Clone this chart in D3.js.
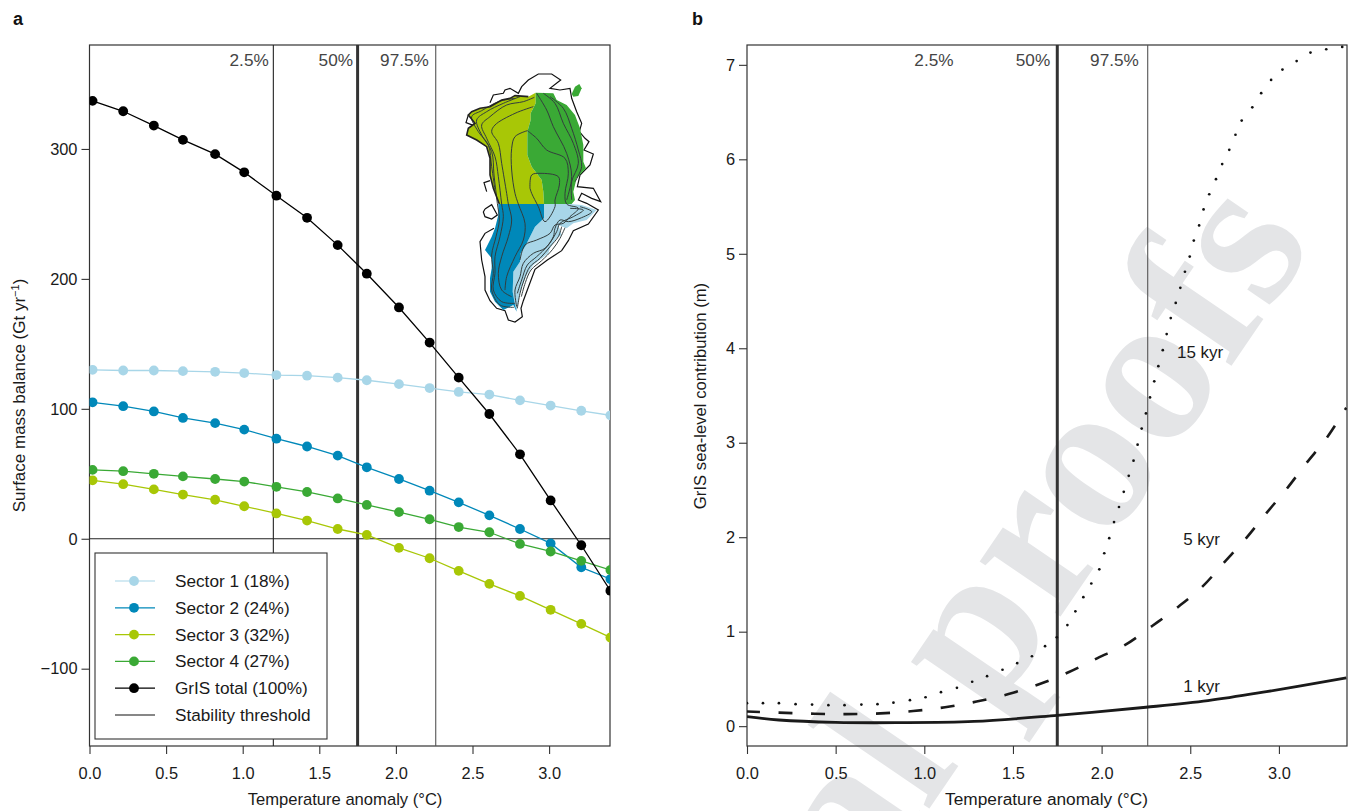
<!DOCTYPE html>
<html>
<head>
<meta charset="utf-8">
<script src="https://cdn.jsdelivr.net/npm/d3@7"></script>
<style>
  html, body { margin: 0; background: #fff; overflow: hidden; }
  svg { display: block; font-family: "Liberation Sans", Arial, sans-serif; }
  .domain { display: none; }
  .tick line { stroke: #333; stroke-width: 1.1; }
  .tick text { font-size: 16.4px; fill: #1a1a1a; }
</style>
</head>
<body>
<div id="vis-container"></div>
<script>
////////////////////////////////////
////////////// Data ////////////////
////////////////////////////////////

const smbTemps = [0.02, 0.22, 0.42, 0.61, 0.82, 1.01, 1.22, 1.42, 1.62, 1.81, 2.02, 2.22, 2.41, 2.61, 2.81, 3.01, 3.21, 3.4]
const sector1 = [130, 129.5, 129.5, 129, 128.5, 127.5, 126, 125.5, 124, 122, 119, 116, 113, 111, 106.5, 102.5, 98.5, 95]
const sector2 = [105, 102, 98, 93, 89, 84, 77, 71, 64, 55, 46, 37, 28, 18, 7.5, -3.6, -22, -31]
const sector3 = [45, 42, 38, 34, 30, 25, 19.5, 14, 7.5, 3, -7, -15, -24.7, -34.7, -44, -54.7, -65.5, -76]
const sector4 = [53, 52, 50, 48, 46, 44, 40, 36, 31, 26, 20.5, 15, 9, 5, -4, -9.8, -17, -24]
const grisTotal = [337, 329, 318, 307, 296, 282, 264, 247, 226, 204, 178, 151, 124, 96, 65, 29.5, -5, -40]

const smbNames = ["Sector 1 (18%)", "Sector 2 (24%)", "Sector 3 (32%)", "Sector 4 (27%)", "GrIS total (100%)"]
const smbColors = ["#a8d6e8", "#0088b9", "#a8c706", "#3aa935", "#000000"]
const smbSeries = [sector1, sector2, sector3, sector4, grisTotal]

const oneKyrT = [0, 0.18, 0.5, 0.84, 1.28, 1.75, 2.25, 2.6, 2.93, 3.38]
const oneKyr = [0.1, 0.065, 0.04, 0.037, 0.05, 0.115, 0.2, 0.27, 0.365, 0.51]

const fiveKyrT = [0, 0.18, 0.38, 0.555, 0.753, 0.937, 1.117, 1.295, 1.475, 1.647, 1.813, 1.977, 2.133, 2.285, 2.433, 2.57, 2.69, 2.813, 2.925, 3.043, 3.153, 3.265, 3.38]
const fiveKyr = [0.155, 0.143, 0.132, 0.127, 0.135, 0.16, 0.2, 0.26, 0.34, 0.443, 0.57, 0.72, 0.86, 1.06, 1.265, 1.48, 1.73, 1.985, 2.245, 2.51, 2.78, 3.04, 3.37]

// 15 kyr curve, read dot by dot
const fifteenKyrT = [0, 0.09, 0.18, 0.274, 0.367, 0.459, 0.55, 0.645, 0.736, 0.826, 0.919, 1.007, 1.094, 1.184, 1.27, 1.354, 1.441, 1.524, 1.607, 1.681, 1.747, 1.807, 1.852, 1.897, 1.942, 1.987, 2.015, 2.043, 2.07, 2.098, 2.125, 2.153, 2.18, 2.203, 2.226, 2.25, 2.273, 2.297, 2.32, 2.345, 2.367, 2.39, 2.418, 2.444, 2.47, 2.497, 2.52, 2.55, 2.575, 2.607, 2.645, 2.68, 2.72, 2.755, 2.79, 2.85, 2.9, 2.956, 3.02, 3.1, 3.178, 3.267, 3.357]
const fifteenKyr = [0.243, 0.243, 0.243, 0.233, 0.228, 0.222, 0.222, 0.228, 0.233, 0.249, 0.275, 0.306, 0.36, 0.406, 0.47, 0.529, 0.597, 0.667, 0.74, 0.847, 0.94, 1.07, 1.215, 1.365, 1.51, 1.66, 1.83, 1.99, 2.16, 2.32, 2.48, 2.65, 2.81, 2.98, 3.15, 3.31, 3.48, 3.65, 3.81, 3.98, 4.15, 4.32, 4.48, 4.64, 4.81, 4.97, 5.14, 5.3, 5.47, 5.63, 5.79, 5.95, 6.1, 6.26, 6.41, 6.55, 6.7, 6.84, 6.95, 7.04, 7.13, 7.165, 7.19]

const smbThresholds = [1.2, 1.75, 2.26]
const slrThresholds = [1.75, 2.26]
const percentLabels = ["2.5%", "50%", "97.5%"]
const smbPercentT = [1.17, 1.72, 2.215]
const slrPercentT = [1.165, 1.71, 2.21]

const xTicks = [0, 0.5, 1, 1.5, 2, 2.5, 3]
const smbTicks = [-100, 0, 100, 200, 300]
const slrTicks = [0, 1, 2, 3, 4, 5, 6, 7]

// Greenland inset, in its own 540 x 810 map units
const iceNW = [[287,98],[265,110],[225,107],[210,115],[185,120],[150,140],[120,145],[95,155],[85,165],[105,190],[85,205],[80,225],[110,240],[140,260],[150,295],[150,345],[160,385],[178,432],[312,432],[310,395],[305,360],[275,320],[262,285],[262,215],[272,180],[272,160],[287,130]]
const iceNE = [[287,98],[340,100],[350,120],[380,135],[405,165],[420,205],[430,255],[430,305],[438,325],[410,355],[400,395],[405,420],[395,432],[312,432],[310,395],[305,360],[275,320],[262,285],[262,215],[272,180],[272,160],[287,130]]
const iceSW = [[175,432],[312,432],[312,475],[285,500],[255,560],[242,580],[240,605],[220,635],[218,695],[225,735],[230,755],[220,735],[190,750],[165,725],[150,695],[150,655],[155,625],[155,595],[135,570],[155,530],[165,505],[175,465]]
const iceSE = [[312,432],[390,432],[425,435],[470,450],[440,480],[400,490],[380,505],[355,495],[365,525],[350,535],[330,565],[325,580],[280,615],[260,645],[240,695],[230,755],[225,735],[218,695],[220,635],[240,605],[242,580],[255,560],[285,500],[312,475]]
const iceIsland = [[395,102],[405,80],[418,72],[425,85],[415,108],[400,110]]

const landOutlines = [
  [[150,128],[160,105],[190,100],[195,90],[210,85],[235,100],[245,80],[265,60],[295,42],[335,42],[362,60],[330,85],[360,90],[390,85],[395,115],[410,155],[425,190],[418,215],[435,235],[447,245],[432,270],[460,282],[450,315],[420,345],[412,380],[460,385],[482,425],[455,415],[425,400],[415,420],[440,430],[475,450],[445,492],[400,512],[385,542],[365,572],[322,600],[285,628],[265,682],[250,722],[243,745],[247,770],[225,786],[205,780],[195,752],[170,745],[150,722],[135,690],[135,650],[125,600],[120,545],[135,520],[162,505]],
  [[135,447],[155,434],[172,465],[155,477],[135,470],[130,456],[135,447]],
  [[140,395],[132,368],[150,362]],
  [[85,165],[78,188],[100,196]]
]

const contours = [
  [[283,112],[250,125],[200,135],[150,170],[125,195],[140,235],[165,290],[175,350],[185,432],[190,470],[180,530],[165,590],[165,640],[160,690],[185,725],[225,730]],
  [[280,140],[225,160],[165,195],[155,215],[175,250],[185,310],[200,400],[205,432],[215,480],[205,530],[185,590],[175,640],[185,690],[215,710]],
  [[262,212],[225,230],[215,265],[215,330],[225,400],[235,432],[255,490],[250,540],[225,590],[200,650],[195,690]],
  [[270,385],[275,345],[300,340],[355,350],[358,375],[345,420],[345,440],[315,485],[295,440],[275,400],[270,385]],
  [[290,100],[320,150],[340,200],[380,280],[395,350],[380,420]],
  [[262,212],[290,235],[320,270],[375,295],[385,340],[375,400],[380,432],[415,445],[390,470],[370,490],[345,495],[330,520],[290,540],[255,555],[240,600]],
  [[310,100],[345,130],[370,190],[400,250],[415,310],[395,365],[395,420]],
  [[330,110],[370,145],[395,205],[415,270],[425,320],[405,365]],
  [[420,440],[455,455],[420,475],[385,485],[360,480],[345,505],[340,530],[315,565],[280,580],[250,610],[240,650],[225,690],[230,740]],
  [[390,445],[430,450],[400,470],[360,490],[350,515],[325,555],[290,590],[262,615],[245,660],[232,700]],
  [[365,500],[355,530],[330,560],[300,595],[270,620],[252,660],[240,700],[232,745]],
  [[375,503],[360,535],[338,568],[305,602],[273,630],[256,668],[244,710]],
  [[240,110],[190,130],[140,155],[110,180],[125,225],[155,275],[162,345],[172,430],[178,480],[168,530],[155,585],[160,640],[155,690],[180,735],[222,742]],
  [[225,115],[175,125],[125,152],[95,170],[115,215],[145,255],[155,320],[165,390]]
]

////////////////////////////////////
//////////// SVG Setup /////////////
////////////////////////////////////

const svg = d3.select("#vis-container").append("svg")
    .attr("width", 1350)
    .attr("height", 811)

const panelA = { left: 89.5, right: 610, top: 45, bottom: 746 }
const panelB = { left: 747, right: 1347, top: 45, bottom: 746 }

const xA = d3.scaleLinear().domain([0, 3.4]).range([panelA.left, panelA.left + 3.4 * 153.2])
const yA = d3.scaleLinear().domain([-159.5, 380]).range([panelA.bottom, panelA.top])
const xB = d3.scaleLinear().domain([0, 3.384]).range([panelB.left, panelB.right])
const yB = d3.scaleLinear().domain([-0.21, 7.21]).range([panelB.bottom, panelB.top])

svg.append("clipPath").attr("id", "clip-a").append("rect")
    .attr("x", panelA.left).attr("y", panelA.top)
    .attr("width", panelA.right - panelA.left).attr("height", panelA.bottom - panelA.top)
svg.append("clipPath").attr("id", "clip-b").append("rect")
    .attr("x", panelB.left).attr("y", panelB.top)
    .attr("width", panelB.right - panelB.left).attr("height", panelB.bottom - panelB.top)

////////////////////////////////////
//////////// Watermark /////////////
////////////////////////////////////

svg.append("text")
    .attr("transform", "translate(867,900) rotate(-55.7)")
    .attr("font-family", "'Liberation Serif', serif")
    .attr("font-weight", "bold")
    .attr("font-size", 213)
    .attr("fill", "#e4e5e7")
    .text("al proofs")

////////////////////////////////////
////////////// Axes ////////////////
////////////////////////////////////

function drawAxes(box, x, y, yTicks) {
    svg.append("g")
        .attr("transform", `translate(0,${box.bottom})`)
        .call(d3.axisBottom(x).tickValues(xTicks).tickSize(8).tickPadding(13.5).tickFormat(d3.format(".1f")))
    svg.append("g")
        .attr("transform", `translate(${box.left},0)`)
        .call(d3.axisLeft(y).tickValues(yTicks).tickSize(8).tickPadding(4).tickFormat(d => d3.format("d")(d).replace("-", "\u2212")))
    svg.append("rect")
        .attr("x", box.left).attr("y", box.top)
        .attr("width", box.right - box.left).attr("height", box.bottom - box.top)
        .attr("fill", "none").attr("stroke", "#333").attr("stroke-width", 1.2)
}

drawAxes(panelA, xA, yA, smbTicks)
drawAxes(panelB, xB, yB, slrTicks)

function axisText(x, y, label, size, rotate) {
    return svg.append("text")
        .attr("transform", `translate(${x},${y})` + (rotate ? " rotate(-90)" : ""))
        .attr("text-anchor", "middle")
        .attr("font-size", size)
        .attr("fill", "#1a1a1a")
        .text(label)
}

axisText(345, 805, "Temperature anomaly (\u00b0C)", 16.6)
axisText(1046.5, 805, "Temperature anomaly (\u00b0C)", 17.3)
axisText(706, 396, "GrIS sea-level contribution (m)", 16.7, true)

const smbTitle = axisText(25, 395.5, "Surface mass balance (Gt yr", 17, true)
smbTitle.append("tspan").attr("font-size", 11).attr("dy", -6).text("\u22121")
smbTitle.append("tspan").attr("dy", 6).text(")")

svg.append("text").attr("x", 13).attr("y", 25)
    .attr("font-size", 18).attr("font-weight", "bold").attr("fill", "#111").text("a")
svg.append("text").attr("x", 692).attr("y", 25)
    .attr("font-size", 18).attr("font-weight", "bold").attr("fill", "#111").text("b")

////////////////////////////////////
//////// Threshold lines ///////////
////////////////////////////////////

function drawThresholds(box, x, values) {
    svg.selectAll(null)
        .data(values)
        .join("line")
        .attr("x1", d => x(d)).attr("x2", d => x(d))
        .attr("y1", box.top).attr("y2", box.bottom)
        .attr("stroke", d => d == 1.75 ? "#333" : (d == 2.26 ? "#555" : "#222"))
        .attr("stroke-width", d => d == 1.75 ? 3 : 1.1)
}

drawThresholds(panelA, xA, smbThresholds)
drawThresholds(panelB, xB, slrThresholds)

function drawPercent(x, values) {
    svg.selectAll(null)
        .data(values)
        .join("text")
        .attr("x", d => x(d))
        .attr("y", 66)
        .attr("text-anchor", "end")
        .attr("font-size", 17.2)
        .attr("fill", "#444")
        .text((d, i) => percentLabels[i])
}

drawPercent(xA, smbPercentT)
drawPercent(xB, slrPercentT)

////////////////////////////////////
/////////// Greenland map //////////
////////////////////////////////////

const mapX = d3.scaleLinear().domain([0, 540]).range([440, 620])
const mapY = d3.scaleLinear().domain([0, 810]).range([60, 330])
const mapLine = d3.line().x(d => mapX(d[0])).y(d => mapY(d[1]))
const mapCurve = d3.line().x(d => mapX(d[0])).y(d => mapY(d[1])).curve(d3.curveCatmullRom.alpha(0.5))

const mapG = svg.append("g").attr("clip-path", "url(#clip-a)")

mapG.selectAll(".land")
    .data(landOutlines)
    .join("path")
    .attr("class", "land")
    .attr("d", mapLine)
    .attr("fill", "none")
    .attr("stroke", "#111")
    .attr("stroke-width", 1.2)

mapG.selectAll(".ice")
    .data([[iceSE, smbColors[0]], [iceSW, smbColors[1]], [iceNW, smbColors[2]], [iceNE, smbColors[3]], [iceIsland, smbColors[3]]])
    .join("path")
    .attr("class", "ice")
    .attr("d", d => mapLine(d[0]) + "Z")
    .attr("fill", d => d[1])

mapG.selectAll(".contour")
    .data(contours)
    .join("path")
    .attr("class", "contour")
    .attr("d", mapCurve)
    .attr("fill", "none")
    .attr("stroke", "#333d3d")
    .attr("stroke-width", 1)

// dark edge round the north west coast
mapG.append("path")
    .attr("d", mapLine(iceNW.slice(1, 18)))
    .attr("fill", "none")
    .attr("stroke", "#222")
    .attr("stroke-width", 1.6)

////////////////////////////////////
//////////// Panel a ///////////////
////////////////////////////////////

svg.append("line")
    .attr("x1", panelA.left).attr("x2", panelA.right)
    .attr("y1", yA(0)).attr("y2", yA(0))
    .attr("stroke", "#222").attr("stroke-width", 1.2)

const smbG = svg.append("g").attr("clip-path", "url(#clip-a)")
const smbLine = d3.line().x((d, i) => xA(smbTemps[i])).y(d => yA(d))

smbSeries.forEach((values, s) => {
    smbG.append("path")
        .attr("d", smbLine(values))
        .attr("fill", "none")
        .attr("stroke", smbColors[s])
        .attr("stroke-width", 1.3)
    smbG.selectAll(null)
        .data(values)
        .join("circle")
        .attr("cx", (d, i) => xA(smbTemps[i]))
        .attr("cy", d => yA(d))
        .attr("r", 4.9)
        .attr("fill", smbColors[s])
})

// legend
const legend = svg.append("g")
legend.append("rect")
    .attr("x", 95).attr("y", 553)
    .attr("width", 232).attr("height", 186)
    .attr("fill", "#fff").attr("stroke", "#333").attr("stroke-width", 1.1)

const legendY = d3.scalePoint()
    .domain(smbNames.concat(["Stability threshold"]))
    .range([581, 715])

smbNames.forEach((name, s) => {
    legend.append("line")
        .attr("x1", 115).attr("x2", 155)
        .attr("y1", legendY(name)).attr("y2", legendY(name))
        .attr("stroke", smbColors[s]).attr("stroke-width", 1.2)
    legend.append("circle")
        .attr("cx", 134).attr("cy", legendY(name)).attr("r", 4.9)
        .attr("fill", smbColors[s])
})
legend.append("line")
    .attr("x1", 115).attr("x2", 155)
    .attr("y1", legendY("Stability threshold")).attr("y2", legendY("Stability threshold"))
    .attr("stroke", "#111").attr("stroke-width", 1.2)
legend.selectAll("text")
    .data(legendY.domain())
    .join("text")
    .attr("x", 175)
    .attr("y", d => legendY(d) + 6)
    .attr("font-size", 17.2)
    .attr("fill", "#1a1a1a")
    .text(d => d)

////////////////////////////////////
//////////// Panel b ///////////////
////////////////////////////////////

const slrG = svg.append("g").attr("clip-path", "url(#clip-b)")
const slrLine = ts => d3.line().x((d, i) => xB(ts[i])).y(d => yB(d)).curve(d3.curveCatmullRom.alpha(0.5))

slrG.append("path")
    .attr("d", slrLine(oneKyrT)(oneKyr))
    .attr("fill", "none").attr("stroke", "#1a1a1a").attr("stroke-width", 2.8)

slrG.append("path")
    .attr("d", slrLine(fiveKyrT)(fiveKyr))
    .attr("fill", "none").attr("stroke", "#1a1a1a").attr("stroke-width", 2.6)
    .attr("stroke-dasharray", "14 18.5")
    .attr("stroke-dashoffset", 1)

slrG.selectAll(".dot")
    .data(fifteenKyr)
    .join("circle")
    .attr("class", "dot")
    .attr("cx", (d, i) => xB(fifteenKyrT[i]))
    .attr("cy", d => yB(d))
    .attr("r", 1.35)
    .attr("fill", "#111")

svg.selectAll(".kyr")
    .data([["1 kyr", 2.46, 0.36], ["5 kyr", 2.46, 1.92], ["15 kyr", 2.425, 3.9]])
    .join("text")
    .attr("class", "kyr")
    .attr("x", d => xB(d[1]))
    .attr("y", d => yB(d[2]))
    .attr("font-size", 17)
    .attr("fill", "#1a1a1a")
    .text(d => d[0])
</script>
</body>
</html>
